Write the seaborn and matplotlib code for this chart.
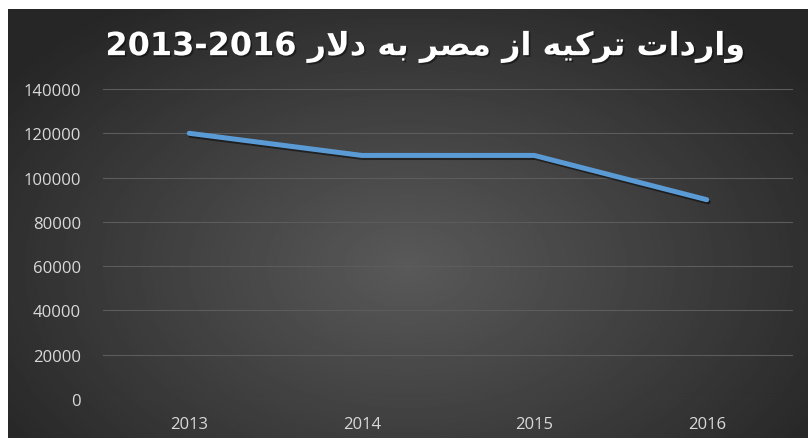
import numpy as np
import matplotlib
matplotlib.use("Agg")
import matplotlib.pyplot as plt
import matplotlib.patheffects as pe
import seaborn as sns

# data
years = ["2013", "2014", "2015", "2016"]
imports_usd = [120000, 110000, 110000, 90000]
y_ticks = [0, 20000, 40000, 60000, 80000, 100000, 120000, 140000]
title_words = "واردات ترکیه از مصر به دلار"
title_years = "2013-2016"

# matplotlib does no arabic shaping, so map letters to presentation forms
# right-joining letters: (isolated, final); dual-joining: (isolated, final, initial, medial)
FORMS = {
    "ا": ("\uFE8D", "\uFE8E"),
    "و": ("\uFEED", "\uFEEE"),
    "ر": ("\uFEAD", "\uFEAE"),
    "د": ("\uFEA9", "\uFEAA"),
    "ز": ("\uFEAF", "\uFEB0"),
    "\uFEFB": ("\uFEFB", "\uFEFC"),  # lam-alef
    "ت": ("\uFE95", "\uFE96", "\uFE97", "\uFE98"),
    "ک": ("\uFB8E", "\uFB8F", "\uFB90", "\uFB91"),
    "ی": ("\uFBFC", "\uFBFD", "\uFBFE", "\uFBFF"),
    "ه": ("\uFEE9", "\uFEEA", "\uFEEB", "\uFEEC"),
    "م": ("\uFEE1", "\uFEE2", "\uFEE3", "\uFEE4"),
    "ص": ("\uFEB9", "\uFEBA", "\uFEBB", "\uFEBC"),
    "ب": ("\uFE8F", "\uFE90", "\uFE91", "\uFE92"),
    "ل": ("\uFEDD", "\uFEDE", "\uFEDF", "\uFEE0"),
}


def shape_word(word):
    word = word.replace("لا", "\uFEFB")
    out = []
    for i, ch in enumerate(word):
        f = FORMS[ch]
        prev_joins = i > 0 and len(FORMS[word[i - 1]]) == 4
        next_joins = i < len(word) - 1 and len(f) == 4
        if prev_joins and next_joins:
            out.append(f[3])
        elif prev_joins:
            out.append(f[1])
        elif next_joins:
            out.append(f[2])
        else:
            out.append(f[0])
    return "".join(reversed(out))


title_visual = title_years + " " + " ".join(shape_word(w) for w in reversed(title_words.split()))

W, H = 808, 439
fig = plt.figure(figsize=(W / 100, H / 100), dpi=100)
fig.patch.set_facecolor("white")

# radial gradient background
bg = fig.add_axes([8 / W, 0, 800 / W, 429 / H])
bg.axis("off")
yy, xx = np.mgrid[0:1:300j, 0:1:500j]
r = np.sqrt(((xx - 0.5) / 0.62) ** 2 + ((yy - 0.6) / 0.75) ** 2)
shade = 0.35 - 0.2 * np.clip(r, 0, 1)
bg.imshow(shade, cmap="gray", vmin=0, vmax=1, aspect="auto", extent=[0, 1, 0, 1], origin="upper")
bg.set_xlim(0, 1)
bg.set_ylim(0, 1)

ax = fig.add_axes([103 / W, 1 - 400 / H, 690 / W, 310 / H])
ax.patch.set_alpha(0)

sns.lineplot(x=years, y=imports_usd, ax=ax, color="#5B9BD5", linewidth=3.6,
             solid_capstyle="round", solid_joinstyle="round",
             path_effects=[pe.SimpleLineShadow(offset=(1, -1.5), alpha=0.5), pe.Normal()])

ax.set_xlim(-0.5, 3.5)
ax.set_ylim(0, 140000)
ax.set_yticks(y_ticks)
ax.set_yticklabels([str(v) for v in y_ticks])
ax.grid(axis="y", color="#5c5c5c", linewidth=0.8)
ax.set_axisbelow(True)
for s in ax.spines.values():
    s.set_visible(False)
ax.tick_params(length=0, colors="#d9d9d9", labelsize=12)
ax.tick_params(axis="y", pad=16)
ax.tick_params(axis="x", pad=12)
for lab in ax.get_xticklabels() + ax.get_yticklabels():
    lab.set_family(["Open Sans", "DejaVu Sans"])
ax.set_xlabel("")
ax.set_ylabel("")

fig.text(0.527, 1 - 48 / H, title_visual, ha="center", va="center", color="white",
         fontsize=23, fontweight="bold", family=["DejaVu Sans"],
         path_effects=[pe.withSimplePatchShadow(offset=(1.2, -1.2), shadow_rgbFace="black", alpha=0.45)])

fig.savefig("out.png", dpi=100, facecolor="white")
